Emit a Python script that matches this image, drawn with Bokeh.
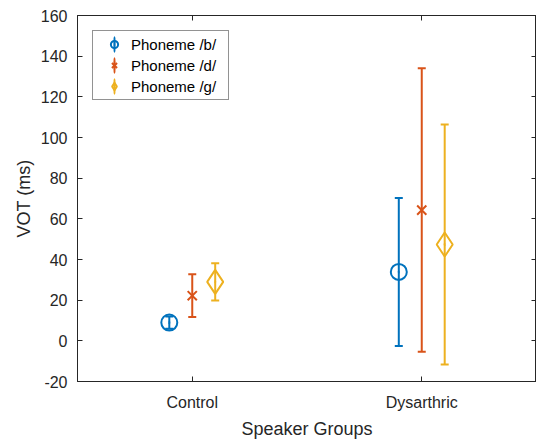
from bokeh.plotting import figure
from bokeh.models import (ColumnDataSource, Whisker, TeeHead, FixedTicker, LinearAxis,
                          Legend, LegendItem, Range1d)
from bokeh.embed import file_html
from bokeh.resources import INLINE

# Mean VOT and error half-widths per phoneme, for each speaker group
groups = ["Control", "Dysarthric"]
group_pos = [1, 2]
phonemes = ["Phoneme /b/", "Phoneme /d/", "Phoneme /g/"]
b_mean = [9.0, 33.9]
b_err = [3.0, 36.4]
d_mean = [22.2, 64.3]
d_err = [10.5, 69.7]
g_mean = [29.0, 47.4]
g_err = [9.2, 59.0]
y_ticks = [-20, 0, 20, 40, 60, 80, 100, 120, 140, 160]

colors = ["#0072BD", "#D95319", "#EDB120"]
markers = ["circle", "x", "diamond"]
marker_sizes = [16, 13, 24]
offsets = [-0.1, 0.0, 0.1]
means = [b_mean, d_mean, g_mean]
errs = [b_err, d_err, g_err]

AX = "#262626"
FONT = "Liberation Sans"

p = figure(width=536, height=441, output_backend="svg", toolbar_location=None,
           x_range=Range1d(0.5, 2.5), y_range=Range1d(-20, 160),
           min_border_left=77, min_border_right=0, min_border_top=15, min_border_bottom=57)
p.xgrid.visible = False
p.ygrid.visible = False
p.outline_line_color = AX
p.outline_line_width = 1
p.background_fill_color = "white"
p.border_fill_color = "white"

# main axes
p.xaxis.ticker = FixedTicker(ticks=group_pos)
p.xaxis.major_label_overrides = {pos: name for pos, name in zip(group_pos, groups)}
p.yaxis.ticker = FixedTicker(ticks=y_ticks)
p.yaxis.major_label_overrides = {t: str(t) for t in y_ticks}
for ax in (p.xaxis[0], p.yaxis[0]):
    ax.axis_line_color = AX
    ax.major_tick_line_color = AX
    ax.major_tick_in = 5
    ax.major_tick_out = 0
    ax.minor_tick_line_color = None
    ax.major_label_text_font = FONT
    ax.major_label_text_font_size = "16px"
    ax.major_label_text_color = AX
    ax.axis_label_text_font = FONT
    ax.axis_label_text_font_size = "18px"
    ax.axis_label_text_font_style = "normal"
    ax.axis_label_text_color = AX
p.xaxis.major_label_standoff = 12
p.yaxis.major_label_standoff = 10
p.xaxis.axis_label = "Speaker Groups"
p.yaxis.axis_label = "VOT (ms)"
p.xaxis.axis_label_standoff = 5
p.yaxis.axis_label_standoff = 4

# mirrored ticks on the top and right edges of the box (no labels)
top = LinearAxis(ticker=FixedTicker(ticks=group_pos),
                 major_label_overrides={t: "" for t in group_pos},
                 major_label_text_font_size="1px", major_label_standoff=0,
                 major_tick_in=5, major_tick_out=0,
                 minor_tick_line_color=None, axis_line_color=AX, major_tick_line_color=AX)
right = LinearAxis(ticker=FixedTicker(ticks=y_ticks),
                   major_label_overrides={t: "" for t in y_ticks},
                   major_label_text_font_size="1px", major_label_standoff=0,
                   major_tick_in=5, major_tick_out=0,
                   minor_tick_line_color=None, axis_line_color=AX, major_tick_line_color=AX)
p.add_layout(top, "above")
p.add_layout(right, "right")

items = []
for name, col, mk, ms, off, m, e in zip(phonemes, colors, markers, marker_sizes, offsets, means, errs):
    xs = [gp + off for gp in group_pos]
    src = ColumnDataSource(dict(x=xs, y=m,
                                lower=[a - b for a, b in zip(m, e)],
                                upper=[a + b for a, b in zip(m, e)]))
    w = Whisker(source=src, base="x", lower="lower", upper="upper", dimension="height",
                line_color=col, line_width=2,
                lower_head=TeeHead(size=8, line_color=col, line_width=2),
                upper_head=TeeHead(size=8, line_color=col, line_width=2))
    p.add_layout(w)
    # a hair-thin upright ellipse: in the legend it becomes the vertical bar of the swatch
    bar = p.ellipse("x", "y", source=src, width=0.02, height=1.0,
                    width_units="screen", height_units="screen",
                    fill_color=None, line_color=col, line_width=2)
    r = p.scatter("x", "y", source=src, marker=mk, size=ms, fill_color=None,
                  line_color=col, line_width=2)
    items.append(LegendItem(label=name, renderers=[bar, r]))

legend = Legend(items=items, location="top_left", margin=15, padding=4, spacing=3,
                glyph_width=34, glyph_height=18, label_height=18, label_standoff=0,
                label_width=93,
                label_text_font=FONT, label_text_font_size="15px", label_text_color="black",
                border_line_color=AX, border_line_width=1, background_fill_alpha=1)
p.add_layout(legend, "center")

open("out.html", "w").write(file_html(p, INLINE))
